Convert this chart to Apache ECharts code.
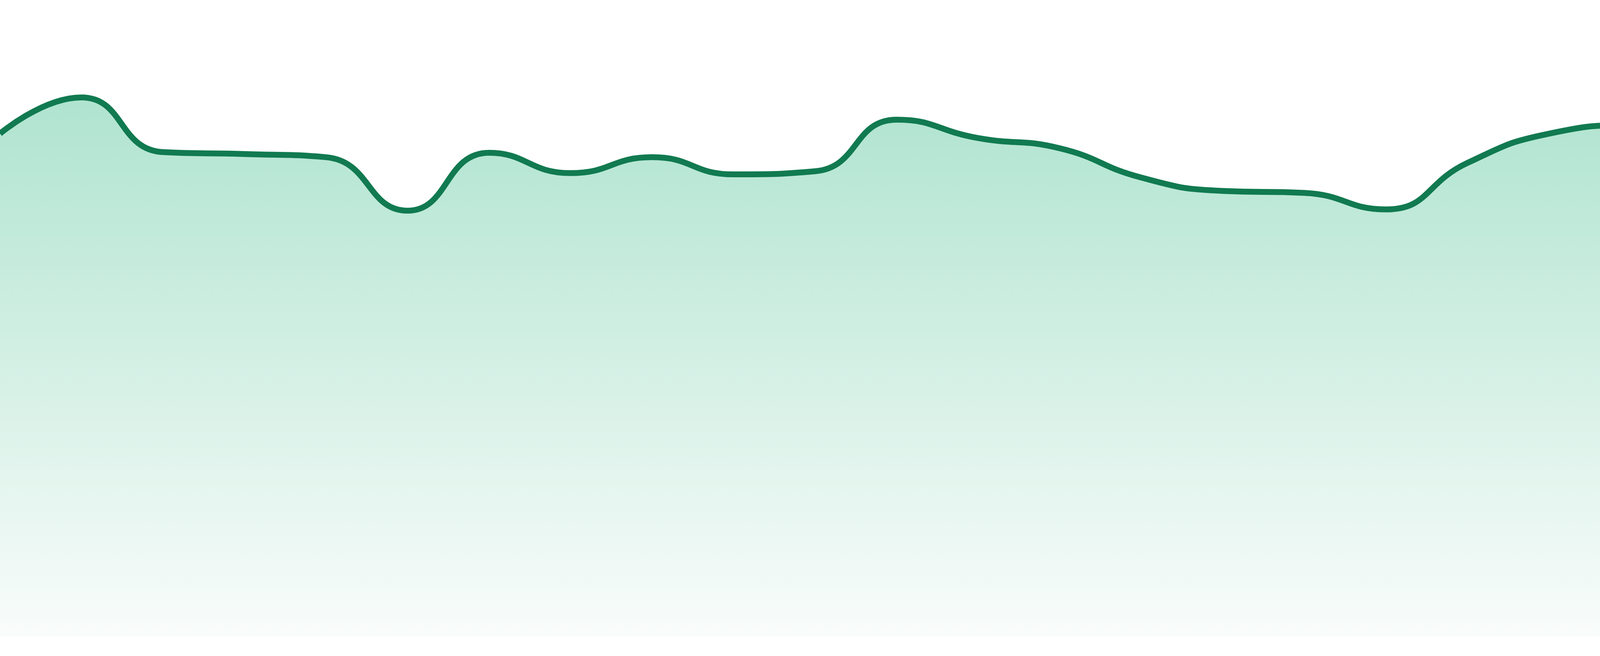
<!DOCTYPE html>
<html>
<head>
<meta charset="utf-8">
<script src="https://cdn.jsdelivr.net/npm/echarts@6/dist/echarts.min.js"></script>
<style>
  html, body { margin: 0; padding: 0; background: #fff; }
  #chart { width: 4800px; height: 1680px; }
</style>
</head>
<body>
<div id="chart"></div>
<script>
var categories = ['1','2','3','4','5','6','7','8','9','10','11','12',
                  '13','14','15','16','17','18','19','20','21','22','23','24'];
var values = [79.0, 84.7, 76.1, 75.8, 75.3, 66.9, 76.0, 72.8, 75.3, 72.6, 73.1, 81.2,
              78.3, 76.7, 72.1, 70.0, 69.7, 67.1, 74.4, 79.0, 80.3, 74.3, 78.8, 87.6];

var myChart = echarts.init(document.getElementById('chart'));

var option = {
    animation: false,
    grid: { left: 0, right: 0, top: 0, bottom: 50 },
    xAxis: {
        type: 'category',
        boundaryGap: false,
        data: categories,
        show: false
    },
    yAxis: {
        type: 'value',
        min: 0,
        max: 100,
        show: false
    },
    series: [
        {
            type: 'line',
            data: values,
            smooth: true,
            symbol: 'none',
            lineStyle: { color: '#117a50', width: 15 },
            areaStyle: {
                opacity: 1,
                color: new echarts.graphic.LinearGradient(0, 0, 0, 1, [
                    { offset: 0, color: '#ade3ce' },
                    { offset: 1, color: '#f9fcfb' }
                ])
            }
        }
    ]
};
myChart.setOption(option);
</script>
</body>
</html>
